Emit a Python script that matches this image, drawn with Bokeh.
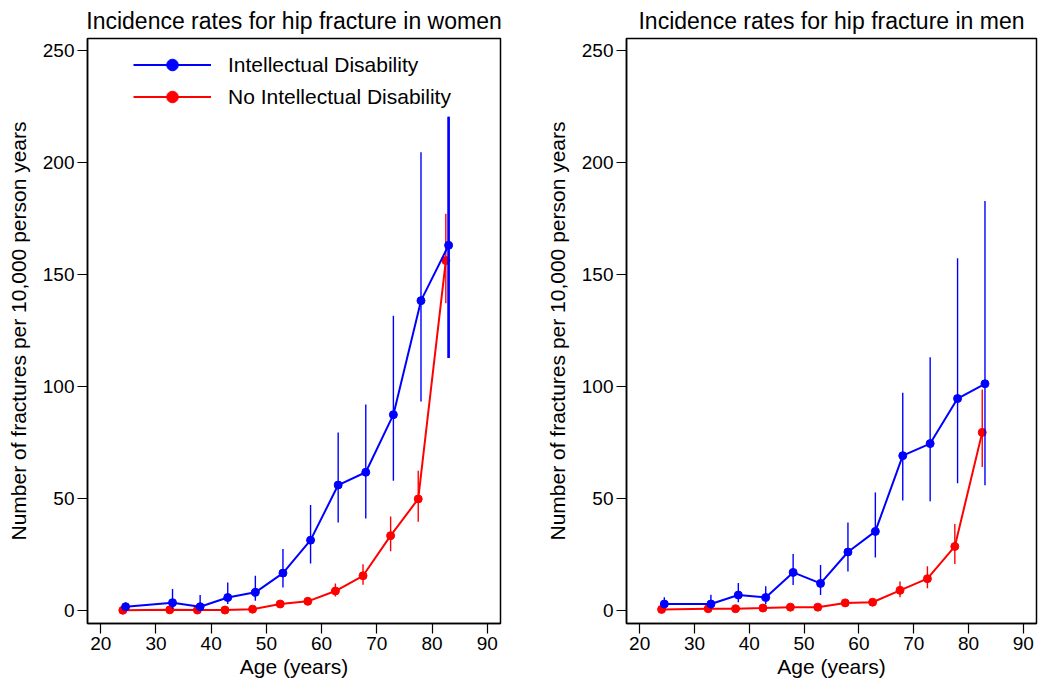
from bokeh.plotting import figure
from bokeh.layouts import row
from bokeh.models import Range1d, FixedTicker, Legend, LegendItem
from bokeh.embed import file_html
from bokeh.resources import INLINE

# ---------------- data ----------------
# Women
w_id_age = [24.5, 33, 38, 43, 48, 53, 58, 63, 68, 73, 78, 83]
w_id_rate = [1.8, 3.6, 1.8, 5.9, 8.2, 16.8, 31.5, 56.1, 61.8, 87.5, 138.4, 163.1]
w_id_lo = [0.3, 0.8, 0.8, 3.0, 4.5, 10.4, 21.1, 39.4, 41.2, 58.0, 93.4, 112.8]
w_id_hi = [3.7, 9.7, 7.0, 12.6, 15.6, 27.5, 47.2, 79.6, 92.1, 131.7, 204.6, 220.5]

w_no_age = [24.0, 32.5, 37.5, 42.5, 47.5, 52.5, 57.5, 62.5, 67.5, 72.5, 77.5, 82.5]
w_no_rate = [0.2, 0.4, 0.3, 0.3, 0.7, 3.0, 4.2, 8.8, 15.6, 33.5, 49.9, 156.3]
w_no_lo = [0.1, 0.2, 0.1, 0.1, 0.4, 2.2, 3.1, 6.3, 11.6, 26.5, 39.7, 137.2]
w_no_hi = [0.5, 0.8, 0.6, 0.6, 1.2, 4.1, 5.8, 12.2, 20.8, 42.1, 62.5, 177.2]

# Men
m_id_age = [24.5, 33, 38, 43, 48, 53, 58, 63, 68, 73, 78, 83]
m_id_rate = [3.0, 3.0, 7.0, 5.9, 17.1, 12.2, 26.2, 35.4, 69.2, 74.6, 94.7, 101.3]
m_id_lo = [1.2, 0.9, 3.8, 3.0, 11.5, 7.0, 17.5, 23.8, 49.2, 48.9, 56.9, 56.0]
m_id_hi = [6.0, 7.1, 12.4, 10.9, 25.3, 20.4, 39.4, 52.8, 97.3, 113.1, 157.3, 182.9]

m_no_age = [24.0, 32.5, 37.5, 42.5, 47.5, 52.5, 57.5, 62.5, 67.5, 72.5, 77.5, 82.5]
m_no_rate = [0.6, 0.9, 0.9, 1.2, 1.6, 1.6, 3.5, 3.8, 9.1, 14.3, 28.7, 79.6]
m_no_lo = [0.3, 0.5, 0.5, 0.8, 1.1, 1.1, 2.6, 2.9, 6.0, 10.0, 20.9, 64.1]
m_no_hi = [1.0, 1.4, 1.4, 1.7, 2.3, 2.3, 4.6, 5.0, 13.0, 19.9, 38.7, 98.7]

x_ticks = [20, 30, 40, 50, 60, 70, 80, 90]
y_ticks = [0, 50, 100, 150, 200, 250]

series_labels = ["Intellectual Disability", "No Intellectual Disability"]
titles = ["Incidence rates for hip fracture in women", "Incidence rates for hip fracture in men"]
x_label = "Age (years)"
y_label = "Number of fractures per 10,000 person years"

FONT = "Liberation Sans"


def make_fig(title, id_data, no_data, border_left, frame_w, border_right, legend, thick_last):
    p = figure(frame_width=frame_w, frame_height=585,
               min_border_left=border_left, min_border_right=border_right,
               min_border_top=35, min_border_bottom=50,
               x_range=Range1d(17.6, 92.4), y_range=Range1d(-5.7, 255.4),
               output_backend="svg", toolbar_location=None, title=title)
    p.title.text_font = FONT
    p.title.text_font_size = "23px"
    p.title.text_font_style = "normal"
    p.title.align = "center"
    p.title.text_color = "black"
    p.grid.visible = False
    p.outline_line_color = "black"
    p.outline_line_width = 1.5
    p.background_fill_color = "white"
    for ax in (p.xaxis[0], p.yaxis[0]):
        ax.axis_line_color = "black"
        ax.axis_line_width = 1.5
        ax.major_tick_out = 10
        ax.major_tick_in = 0
        ax.major_tick_line_color = "black"
        ax.major_tick_line_width = 1.2
        ax.minor_tick_line_color = None
        ax.major_label_text_font = FONT
        ax.major_label_text_font_size = "19px"
        ax.major_label_text_color = "black"
        ax.axis_label_text_font = FONT
        ax.axis_label_text_font_size = "21px"
        ax.axis_label_text_font_style = "normal"
        ax.axis_label_text_color = "black"
        ax.major_label_standoff = 3
    p.xaxis.ticker = FixedTicker(ticks=x_ticks)
    p.yaxis.ticker = FixedTicker(ticks=y_ticks)
    p.xaxis.axis_label = x_label
    p.yaxis.axis_label = y_label
    p.xaxis.axis_label_standoff = 2
    p.yaxis.axis_label_standoff = 10

    renderers = []
    for (age, rate, lo, hi), color in ((no_data, "red"), (id_data, "blue")):
        p.segment(x0=age, y0=lo, x1=age, y1=hi, line_color=color, line_width=1.4)
        ln = p.line(age, rate, line_color=color, line_width=2)
        sc = p.scatter(age, rate, size=8, fill_color=color, line_color=color)
        renderers.append((ln, sc))
    if thick_last:
        p.segment(x0=id_data[0][-1:], y0=id_data[2][-1:], x1=id_data[0][-1:], y1=id_data[3][-1:],
                  line_color="blue", line_width=2.6)

    if legend:
        items = [LegendItem(label=series_labels[0], renderers=list(renderers[1])),
                 LegendItem(label=series_labels[1], renderers=list(renderers[0]))]
        lg = Legend(items=items, location=(46, 512), padding=0, margin=0,
                    border_line_alpha=0, background_fill_alpha=0,
                    glyph_width=78, glyph_height=29, label_height=29,
                    label_standoff=17, spacing=3,
                    label_text_font=FONT, label_text_font_size="21px",
                    label_text_color="black")
        p.add_layout(lg, "center")
    return p


left = make_fig(titles[0], (w_id_age, w_id_rate, w_id_lo, w_id_hi),
                (w_no_age, w_no_rate, w_no_lo, w_no_hi), 87, 413, 31, True, True)
right = make_fig(titles[1], (m_id_age, m_id_rate, m_id_lo, m_id_hi),
                 (m_no_age, m_no_rate, m_no_lo, m_no_hi), 95, 410, 7, False, False)

layout = row(left, right)
open("out.html", "w").write(file_html(layout, INLINE))
